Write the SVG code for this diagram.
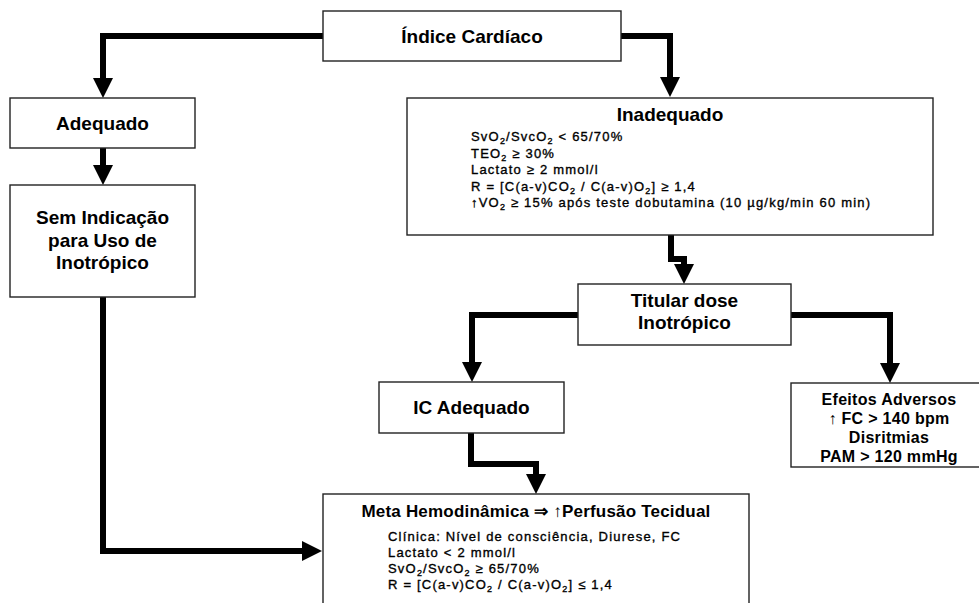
<svg xmlns="http://www.w3.org/2000/svg" width="979" height="603" viewBox="0 0 979 603">
<defs>
<marker id="ah" markerUnits="userSpaceOnUse" markerWidth="20" markerHeight="20" viewBox="0 0 20 20" refX="0" refY="10" orient="auto" overflow="visible">
<path d="M0,0 L20,10 L0,20 z" fill="#000"/>
</marker>
<style>
.box{fill:#fff;stroke:#222;stroke-width:1.4}
.h{font-family:"Liberation Sans",Arial,sans-serif;font-weight:bold;font-size:19px;fill:#000;text-anchor:middle}
.e{font-family:"Liberation Sans",Arial,sans-serif;font-weight:bold;font-size:16px;fill:#000;text-anchor:middle;letter-spacing:0.3px}
.t{font-family:"Liberation Sans",Arial,sans-serif;font-weight:bold;font-size:17px;fill:#000;text-anchor:middle;letter-spacing:0.2px}
.b{font-family:"Liberation Sans",Arial,sans-serif;font-size:13px;fill:#000;stroke:#000;stroke-width:0.35;letter-spacing:1.2px}
.s{font-size:9px}
.c{fill:none;stroke:#000;stroke-width:6;stroke-linejoin:miter;marker-end:url(#ah)}
</style>
</defs>
<rect width="979" height="603" fill="#fff"/>
<g id="connectors">
<path class="c" d="M323,36 H103 V78"/>
<path class="c" d="M621,36 H670 V77"/>
<path class="c" d="M103,148 V165"/>
<path class="c" d="M103,297 V551 H302"/>
<path class="c" d="M671,234 V259 H684 V264"/>
<path class="c" d="M578,315 H472 V362"/>
<path class="c" d="M791,315 H890 V363"/>
<path class="c" d="M471,433 V464 H536 V474"/>
</g>
<g id="indice">
<rect class="box" x="323" y="11" width="298" height="50"/>
<text class="h" x="472" y="43">Índice Cardíaco</text>
</g>
<g id="adequado">
<rect class="box" x="10" y="98" width="185" height="50"/>
<text class="h" x="102.5" y="130">Adequado</text>
</g>
<g id="sem-indicacao">
<rect class="box" x="10" y="185" width="185" height="112"/>
<text class="h" x="102.5" y="224">Sem Indicação</text>
<text class="h" x="102.5" y="247">para Uso de</text>
<text class="h" x="102.5" y="269">Inotrópico</text>
</g>
<g id="inadequado">
<rect class="box" x="407" y="98" width="526" height="137"/>
<text class="h" x="670" y="121">Inadequado</text>
<text class="b" x="471" y="141">SvO<tspan class="s" dy="3">2</tspan><tspan dy="-3">/SvcO</tspan><tspan class="s" dy="3">2</tspan><tspan dy="-3"> &lt; 65/70%</tspan></text>
<text class="b" x="471" y="157.5">TEO<tspan class="s" dy="3">2</tspan><tspan dy="-3"> ≥ 30%</tspan></text>
<text class="b" x="471" y="174">Lactato ≥ 2 mmol/l</text>
<text class="b" x="471" y="190.5">R = [C(a-v)CO<tspan class="s" dy="3">2</tspan><tspan dy="-3"> / C(a-v)O</tspan><tspan class="s" dy="3">2</tspan><tspan dy="-3">] ≥ 1,4</tspan></text>
<text class="b" x="471" y="207">↑VO<tspan class="s" dy="3">2</tspan><tspan dy="-3"> ≥ 15% após teste dobutamina (10 µg/kg/min 60 min)</tspan></text>
</g>
<g id="titular">
<rect class="box" x="578" y="284" width="213" height="61"/>
<text class="h" x="684.5" y="307">Titular dose</text>
<text class="h" x="684.5" y="329">Inotrópico</text>
</g>
<g id="ic-adequado">
<rect class="box" x="379" y="382" width="185" height="51"/>
<text class="h" x="471.5" y="414">IC Adequado</text>
</g>
<g id="efeitos">
<rect class="box" x="791" y="383" width="198" height="84"/>
<text class="e" x="889" y="405">Efeitos Adversos</text>
<text class="e" x="889" y="424">↑ FC &gt; 140 bpm</text>
<text class="e" x="889" y="443">Disritmias</text>
<text class="e" x="889" y="462">PAM &gt; 120 mmHg</text>
</g>
<g id="meta">
<rect class="box" x="323" y="494" width="426" height="120"/>
<text class="t" x="536" y="517">Meta Hemodinâmica ⇒ ↑Perfusão Tecidual</text>
<text class="b" x="388" y="541">Clínica: Nível de consciência, Diurese, FC</text>
<text class="b" x="388" y="557">Lactato &lt; 2 mmol/l</text>
<text class="b" x="388" y="573">SvO<tspan class="s" dy="3">2</tspan><tspan dy="-3">/SvcO</tspan><tspan class="s" dy="3">2</tspan><tspan dy="-3"> ≥ 65/70%</tspan></text>
<text class="b" x="388" y="589">R = [C(a-v)CO<tspan class="s" dy="3">2</tspan><tspan dy="-3"> / C(a-v)O</tspan><tspan class="s" dy="3">2</tspan><tspan dy="-3">] ≤ 1,4</tspan></text>
</g>
</svg>
